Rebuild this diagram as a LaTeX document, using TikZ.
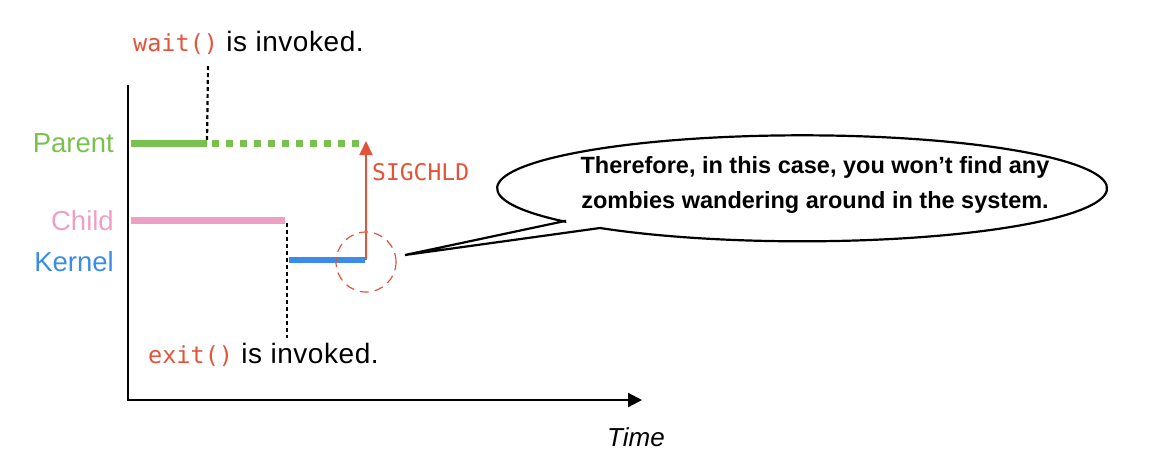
\documentclass[tikz,border=0pt]{standalone}
\usepackage{fontspec}
\setmainfont{Liberation Sans}
\setmonofont{DejaVu Sans Mono}
\usetikzlibrary{arrows.meta}
\definecolor{pgreen}{RGB}{122,192,78}
\definecolor{cpink}{RGB}{238,160,196}
\definecolor{kblue}{RGB}{58,140,232}
\definecolor{sred}{RGB}{226,84,58}
\begin{document}
\begin{tikzpicture}[x=1pt,y=-1pt,
  lbl/.style={font=\fontsize{27.5}{32}\selectfont, anchor=east, inner sep=0pt},
  note/.style={font=\fontsize{28}{32}\selectfont\addfontfeature{LetterSpace=2}, anchor=west, inner sep=0pt},
  guide/.style={black, line width=2.2pt, dash pattern=on 4pt off 3pt},
  lane/.style={line width=7pt}]
\useasboundingbox (0,0) rectangle (1161,475);
% axes
\coordinate (ytop) at (128,85);
\coordinate (orig) at (128,400);
\coordinate (xend) at (642,400);
\draw[line width=2.2pt, -{Triangle[length=14pt,width=14pt]}] (ytop) -- (orig) -- (xend);
\node[font=\fontsize{26}{30}\selectfont\itshape] (time) at (636,437) {Time};
% labels
\node[lbl, text=pgreen] (parent) at (114,143) {Parent};
\node[lbl, text=cpink] (child) at (114,221) {Child};
\node[lbl, text=kblue] (kernel) at (114,262) {Kernel};
% parent lane
\coordinate (p0) at (131,143);
\coordinate (p1) at (207,143);
\coordinate (p2) at (366,143);
\draw[lane, pgreen] (p0) -- (p1);
\draw[pgreen, line width=7pt, dash pattern=on 7pt off 7pt] ([xshift=5pt]p1) -- (p2);
% child lane
\coordinate (c0) at (131,220);
\coordinate (c1) at (285,220);
\draw[lane, cpink] (c0) -- (c1);
% kernel lane
\coordinate (k0) at (289,260);
\coordinate (k1) at (365,260);
\draw[line width=6pt, kblue] (k0) -- (k1);
% wait guide
\node[note] (wait) at (133,43) {\textcolor{sred}{\fontsize{23.5}{26}\selectfont\ttfamily wait()} is invoked.};
\coordinate (wg) at (208,66);
\draw[guide] (wg) -- (p1);
% exit guide
\node[note] (exit) at (148,355) {\textcolor{sred}{\fontsize{23.5}{26}\selectfont\ttfamily exit()} is invoked.};
\coordinate (eg0) at (287,223);
\coordinate (eg1) at (287,338);
\draw[guide] (eg0) -- (eg1);
% SIGCHLD arrow
\coordinate (s0) at (366,260);
\coordinate (s1) at (366,141);
\draw[sred, line width=2pt, -{Triangle[length=14pt,width=13pt]}] (s0) -- (s1);
\node[font=\fontsize{23}{26}\selectfont\ttfamily, text=sred, anchor=west, inner sep=0pt] (sig) at (372,172) {SIGCHLD};
% dashed circle
\node[draw=sred, dash pattern=on 9pt off 6pt, line width=1.2pt, circle, minimum size=60pt, inner sep=0pt] (focus) at (366,262) {};
% callout
\coordinate (tip) at (405,255);
\coordinate (ta) at (565,221);
\coordinate (tb) at (600,228);
\draw[line width=2.2pt, fill=white] (ta) -- (tip) -- (tb)
  arc[start angle=131.5, end angle=-219, x radius=305, y radius=53] -- cycle;
\node[font=\fontsize{23.5}{35}\selectfont\bfseries, align=center] (msg) at (815,185)
  {Therefore, in this case, you won’t find any\\zombies wandering around in the system.};
\end{tikzpicture}
\end{document}
